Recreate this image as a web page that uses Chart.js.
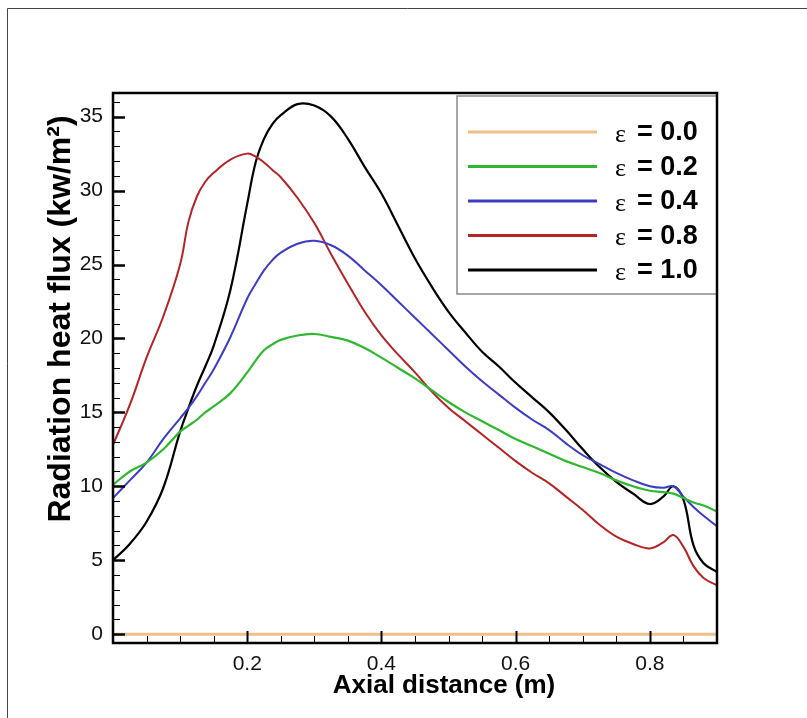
<!DOCTYPE html>
<html><head><meta charset="utf-8">
<script src="https://cdn.jsdelivr.net/npm/chart.js@4.4.0/dist/chart.umd.min.js"></script>
<style>html,body{margin:0;padding:0;background:#fff;}#wrap{width:807px;height:718px;}</style>
</head><body><div id="wrap"><canvas id="c" width="807" height="718"></canvas></div>
<script>
// Axial distance (m)
const xValues = [0, 0.025, 0.05, 0.075, 0.1, 0.1125, 0.125, 0.1375, 0.15, 0.175, 0.2, 0.2125, 0.225, 0.2375, 0.25, 0.275, 0.3, 0.325, 0.35, 0.375, 0.4, 0.425, 0.45, 0.475, 0.5, 0.525, 0.55, 0.575, 0.6, 0.625, 0.65, 0.675, 0.7, 0.725, 0.75, 0.775, 0.8, 0.82, 0.835, 0.85, 0.865, 0.88, 0.9];
// Radiation heat flux (kw/m2) for each emissivity
const eps00 = [0, 0, 0, 0, 0, 0, 0, 0, 0, 0, 0, 0, 0, 0, 0, 0, 0, 0, 0, 0, 0, 0, 0, 0, 0, 0, 0, 0, 0, 0, 0, 0, 0, 0, 0, 0, 0, 0, 0, 0, 0, 0, 0];
const eps02 = [10.1, 11.0, 11.6, 12.5, 13.7, 14.1, 14.5, 15.0, 15.4, 16.3, 17.7, 18.5, 19.2, 19.6, 19.9, 20.2, 20.3, 20.1, 19.85, 19.35, 18.7, 18.0, 17.3, 16.5, 15.7, 15.0, 14.4, 13.8, 13.2, 12.7, 12.2, 11.7, 11.3, 10.9, 10.4, 10.0, 9.7, 9.6, 9.5, 9.2, 8.9, 8.7, 8.3];
const eps04 = [9.2, 10.4, 11.6, 13.2, 14.6, 15.3, 16.1, 17.0, 17.9, 20.1, 22.7, 23.7, 24.6, 25.3, 25.8, 26.4, 26.6, 26.3, 25.6, 24.6, 23.6, 22.5, 21.4, 20.3, 19.2, 18.1, 17.1, 16.2, 15.3, 14.5, 13.8, 12.9, 12.1, 11.5, 10.9, 10.4, 10.0, 9.9, 10.0, 9.3, 8.6, 8.0, 7.3];
const eps08 = [12.8, 15.5, 18.7, 21.5, 25.0, 27.9, 29.6, 30.6, 31.2, 32.1, 32.5, 32.3, 31.9, 31.4, 30.9, 29.5, 27.8, 25.7, 23.7, 21.8, 20.2, 18.9, 17.7, 16.4, 15.3, 14.4, 13.5, 12.6, 11.7, 10.9, 10.2, 9.3, 8.4, 7.4, 6.6, 6.1, 5.8, 6.2, 6.7, 5.9, 4.6, 3.8, 3.3];
const eps10 = [5.0, 6.1, 7.6, 9.9, 13.7, 15.3, 16.8, 18.1, 19.5, 23.3, 29.1, 31.9, 33.5, 34.5, 35.1, 35.85, 35.75, 35.0, 33.5, 31.6, 29.8, 27.6, 25.4, 23.5, 21.8, 20.4, 19.1, 18.1, 17.0, 16.0, 15.0, 13.8, 12.5, 11.3, 10.3, 9.5, 8.8, 9.3, 10.0, 9.1, 6.0, 4.8, 4.2];
const seriesLabels = ['ε = 0.0', 'ε = 0.2', 'ε = 0.4', 'ε = 0.8', 'ε = 1.0'];
const xTickValues = [0.2, 0.4, 0.6, 0.8];
const yTickValues = [0, 5, 10, 15, 20, 25, 30, 35];
const xTitle = 'Axial distance (m)';
const yTitle = 'Radiation heat flux (kw/m²)';

const colors = ['#eec088', '#2fb82f', '#3c3cc4', '#b42424', '#000000'];
const widths = [3, 2.2, 2, 2, 2.2];
const allSeries = [eps00, eps02, eps04, eps08, eps10];

const datasets = allSeries.map((arr, i) => ({
  label: seriesLabels[i],
  data: xValues.map((x, j) => ({x: x, y: arr[j]})),
  borderColor: colors[i],
  backgroundColor: colors[i],
  borderWidth: widths[i],
  pointRadius: 0,
  tension: 0.4,
  fill: false
}));

const framePlugin = {
  id: 'framePlugin',
  beforeDraw(chart) {
    const ctx = chart.ctx;
    ctx.save();
    ctx.fillStyle = '#fff';
    ctx.fillRect(0, 0, chart.width, chart.height);
    ctx.strokeStyle = '#444';
    ctx.lineWidth = 1;
    ctx.beginPath();
    ctx.moveTo(7.5, chart.height);
    ctx.lineTo(7.5, 8.5);
    ctx.lineTo(chart.width, 8.5);
    ctx.stroke();
    ctx.restore();
  },
  afterDatasetsDraw(chart) {
    const ctx = chart.ctx;
    const a = chart.chartArea;
    const xs = chart.scales.x, ys = chart.scales.y;
    ctx.save();
    ctx.strokeStyle = '#000';
    for (let k = 1; k < 18; k++) {
      const v = k * 0.05;
      const px = Math.round(xs.getPixelForValue(v)) + 0.5;
      const major = (k % 4 === 0);
      ctx.lineWidth = major ? 2 : 1;
      ctx.beginPath();
      ctx.moveTo(px, a.bottom);
      ctx.lineTo(px, a.bottom - (major ? 12 : 7));
      ctx.stroke();
    }
    for (let v = 0; v <= 36; v++) {
      const py = Math.round(ys.getPixelForValue(v)) + 0.5;
      const major = (v % 5 === 0);
      ctx.lineWidth = major ? 2.5 : 1;
      ctx.beginPath();
      ctx.moveTo(a.left, py);
      ctx.lineTo(a.left + (major ? 12 : 7), py);
      ctx.stroke();
    }
    ctx.restore();
  }
};

const legendPlugin = {
  id: 'boxLegend',
  afterDraw(chart) {
    const ctx = chart.ctx;
    const a = chart.chartArea;
    const bx = 457, by = 96, bw = a.right - 457, bh = 198;
    ctx.save();
    ctx.fillStyle = '#fff';
    ctx.fillRect(bx, by, bw, bh);
    ctx.strokeStyle = '#8a8a8a';
    ctx.lineWidth = 1.5;
    ctx.strokeRect(bx, by, bw, bh);
    ctx.strokeStyle = '#000';
    ctx.lineWidth = 2.5;
    ctx.strokeRect(a.left, a.top, a.right - a.left, a.bottom - a.top);
    chart.data.datasets.forEach((ds, i) => {
      const y = 132 + i * 34.5;
      ctx.strokeStyle = ds.borderColor;
      ctx.lineWidth = 3;
      ctx.beginPath();
      ctx.moveTo(468, y);
      ctx.lineTo(597, y);
      ctx.stroke();
      const parts = ds.label.split(' ');
      const sym = parts[0];
      const rest = parts.slice(1).join(' ');
      ctx.fillStyle = '#000';
      ctx.textBaseline = 'middle';
      ctx.textAlign = 'left';
      ctx.font = '26px "Liberation Serif", "DejaVu Serif", serif';
      ctx.fillText(sym, 615, y + 3);
      ctx.font = 'bold 27px "Liberation Sans", Arial, sans-serif';
      ctx.fillText(rest, 637, y + 1);
    });
    // axis titles
    ctx.fillStyle = '#000';
    ctx.textAlign = 'center';
    ctx.textBaseline = 'middle';
    ctx.font = 'bold 26px "Liberation Sans", Arial, sans-serif';
    ctx.fillText(xTitle, 444, 686);
    ctx.save();
    ctx.translate(61, 319);
    ctx.rotate(-Math.PI / 2);
    ctx.font = 'bold 32px "Liberation Sans", Arial, sans-serif';
    ctx.fillText(yTitle, 0, 0);
    ctx.restore();
    ctx.restore();
  }
};

new Chart(document.getElementById('c'), {
  type: 'line',
  data: { datasets: datasets },
  plugins: [framePlugin, legendPlugin],
  options: {
    responsive: false,
    animation: false,
    devicePixelRatio: 1,
    layout: { padding: { left: 0, top: 93, right: 90, bottom: 0 } },
    plugins: { legend: { display: false }, tooltip: { enabled: false } },
    scales: {
      x: {
        type: 'linear',
        min: 0, max: 0.9,
        afterFit(scale) { scale.height = 75; },
        afterBuildTicks(scale) { scale.ticks = xTickValues.map(v => ({value: v})); },
        grid: { display: false, drawTicks: false },
        border: { display: false },
        ticks: {
          padding: 9,
          color: '#111',
          font: { family: '"Liberation Sans", Arial, sans-serif', size: 21 },
          callback: (v) => Number(v).toFixed(1)
        },
        title: { display: false }
      },
      y: {
        type: 'linear',
        min: -0.6, max: 36.6,
        afterFit(scale) { scale.width = 113; },
        afterBuildTicks(scale) { scale.ticks = yTickValues.map(v => ({value: v})); },
        grid: { display: false, drawTicks: false },
        border: { display: false },
        ticks: {
          padding: 10,
          color: '#111',
          font: { family: '"Liberation Sans", Arial, sans-serif', size: 21 },
          callback: (v) => String(v)
        },
        title: { display: false }
      }
    }
  }
});
</script>
</body></html>
